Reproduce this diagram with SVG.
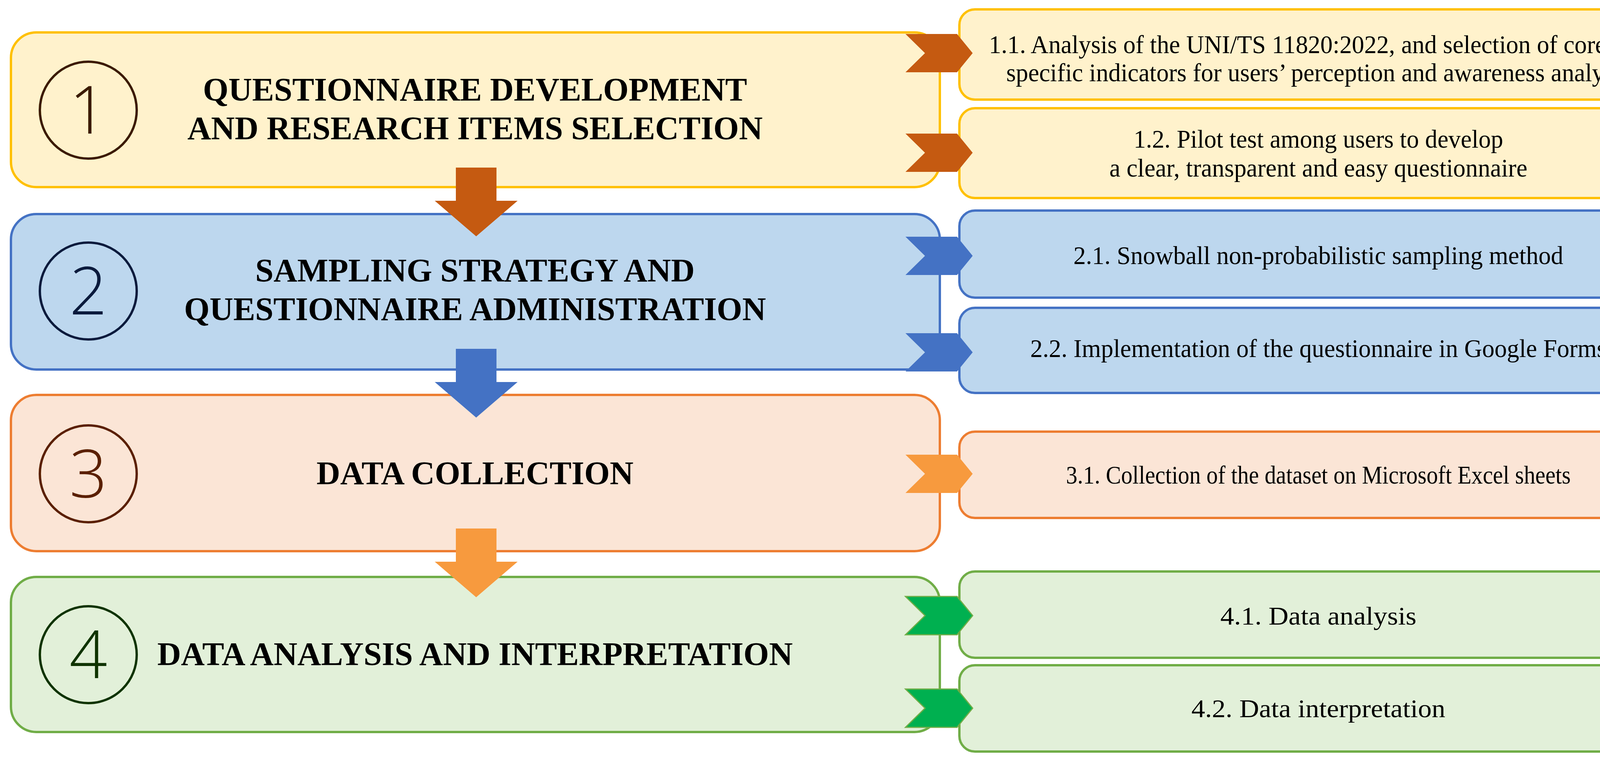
<svg xmlns="http://www.w3.org/2000/svg" width="4322" height="1961" viewBox="0 0 4322 1961">
<style>
.t{font-family:"Liberation Serif",serif;font-weight:bold;font-size:84px;text-anchor:middle;fill:#000}
.s{font-family:"Liberation Serif",serif;font-size:66px;text-anchor:middle;fill:#000}
.n{font-family:"Open Sans","Liberation Sans",sans-serif;font-weight:300;font-size:170px;text-anchor:middle}
.c{fill:none;stroke-width:6}
.y{fill:#FFF2CC;stroke:#FFC000;stroke-width:6}
.b{fill:#BDD7EE;stroke:#4472C4;stroke-width:6}
.o{fill:#FBE5D6;stroke:#ED7D31;stroke-width:6}
.g{fill:#E2F0D9;stroke:#70AD47;stroke-width:6}
</style>
<defs>
<path id="chev" d="M0,-49 L132,-49 L172,0 L132,49 L0,49 L50,0 Z"/>
<path id="dn" d="M-52,0 L52,0 L52,85 L106,85 L0,176 L-106,85 L-52,85 Z"/>
</defs>
<rect width="4322" height="1961" fill="#fff"/>
<g id="node1">
<rect class="y" x="28" y="83" width="2378" height="396" rx="65"/>
<ellipse class="c" cx="226" cy="282" rx="124" ry="124" stroke="#3B1A00"/>
<text class="n" x="226" y="342" fill="#3B1A00">1</text>
<text class="t" x="1216" y="258">QUESTIONNAIRE DEVELOPMENT</text>
<text class="t" x="1216" y="357">AND RESEARCH ITEMS SELECTION</text>
</g>
<g id="node2">
<rect class="b" x="28" y="548" width="2378" height="398" rx="65"/>
<ellipse class="c" cx="226" cy="745" rx="124" ry="124" stroke="#0B1A3C"/>
<text class="n" x="226" y="805" fill="#0B1A3C">2</text>
<text class="t" x="1216" y="721">SAMPLING STRATEGY AND</text>
<text class="t" x="1216" y="820">QUESTIONNAIRE ADMINISTRATION</text>
</g>
<g id="node3">
<rect class="o" x="28" y="1011" width="2378" height="400" rx="65"/>
<ellipse class="c" cx="226" cy="1213" rx="124" ry="124" stroke="#5A1F00"/>
<text class="n" x="226" y="1273" fill="#5A1F00">3</text>
<text class="t" x="1216" y="1240">DATA COLLECTION</text>
</g>
<g id="node4">
<rect class="g" x="28" y="1477" width="2378" height="397" rx="65"/>
<ellipse class="c" cx="226" cy="1676" rx="124" ry="124" stroke="#0F3300"/>
<text class="n" x="226" y="1736" fill="#0F3300">4</text>
<text class="t" x="1216" y="1703">DATA ANALYSIS AND INTERPRETATION</text>
</g>
<g id="node11"><rect class="y" x="2456" y="24" width="1838" height="231" rx="40"/>
<text class="s" x="3375" y="136" textLength="1687" lengthAdjust="spacingAndGlyphs">1.1. Analysis of the UNI/TS 11820:2022, and selection of core and</text>
<text class="s" x="3375" y="208" textLength="1598" lengthAdjust="spacingAndGlyphs">specific indicators for users’ perception and awareness analysis</text></g>
<g id="node12"><rect class="y" x="2456" y="277" width="1838" height="230" rx="40"/>
<text class="s" x="3375" y="378" textLength="946" lengthAdjust="spacingAndGlyphs">1.2. Pilot test among users to develop</text>
<text class="s" x="3375" y="452" textLength="1070" lengthAdjust="spacingAndGlyphs">a clear, transparent and easy questionnaire</text></g>
<g id="node21"><rect class="b" x="2456" y="539" width="1838" height="223" rx="40"/>
<text class="s" x="3375" y="676" textLength="1254" lengthAdjust="spacingAndGlyphs">2.1. Snowball non-probabilistic sampling method</text></g>
<g id="node22"><rect class="b" x="2456" y="788" width="1838" height="218" rx="40"/>
<text class="s" x="3375" y="914" textLength="1475" lengthAdjust="spacingAndGlyphs">2.2. Implementation of the questionnaire in Google Forms</text></g>
<g id="node31"><rect class="o" x="2456" y="1105" width="1838" height="221" rx="40"/>
<text class="s" x="3375" y="1238" textLength="1292" lengthAdjust="spacingAndGlyphs">3.1. Collection of the dataset on Microsoft Excel sheets</text></g>
<g id="node41"><rect class="g" x="2456" y="1463" width="1838" height="221" rx="40"/>
<text class="s" x="3375" y="1599" textLength="502" lengthAdjust="spacingAndGlyphs">4.1. Data analysis</text></g>
<g id="node42"><rect class="g" x="2456" y="1703" width="1838" height="221" rx="40"/>
<text class="s" x="3375" y="1836" textLength="650" lengthAdjust="spacingAndGlyphs">4.2. Data interpretation</text></g>
<g id="connectors">
<use href="#chev" x="2318" y="136" fill="#C55A11"/>
<use href="#chev" x="2318" y="391" fill="#C55A11"/>
<use href="#chev" x="2318" y="655" fill="#4472C4"/>
<use href="#chev" x="2318" y="902" fill="#4472C4"/>
<use href="#chev" x="2318" y="1213" fill="#F79A3E"/>
<use href="#chev" x="2318" y="1576" fill="#00B050" stroke="#70AD47" stroke-width="3"/>
<use href="#chev" x="2318" y="1813" fill="#00B050" stroke="#70AD47" stroke-width="3"/>
<use href="#dn" x="1219" y="429" fill="#C55A11"/>
<use href="#dn" x="1219" y="893" fill="#4472C4"/>
<use href="#dn" x="1219" y="1353" fill="#F79A3E"/>
</g>
</svg>
